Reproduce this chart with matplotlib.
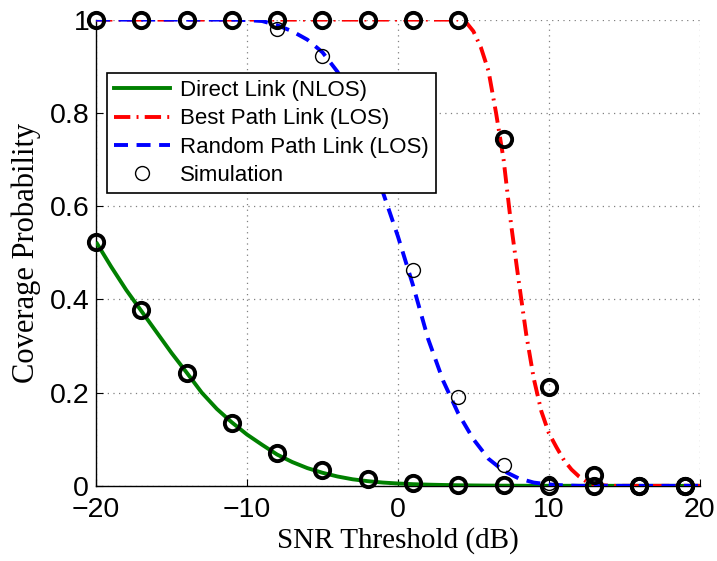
import matplotlib
matplotlib.use('Agg')
import matplotlib.pyplot as plt
from matplotlib.lines import Line2D

# analytical curves
snr_direct = [-20, -19, -18, -17, -16, -15, -14, -13, -12, -11, -10, -9, -8, -7, -6, -5,
              -4, -3, -2, -1, 0, 1, 2, 3, 4, 5, 6, 8, 10, 15, 20]
p_direct = [0.523, 0.47, 0.42, 0.375, 0.33, 0.285, 0.243, 0.2, 0.165, 0.136, 0.11, 0.088,
            0.067, 0.051, 0.038, 0.028, 0.02, 0.014, 0.01, 0.007, 0.005, 0.0035, 0.0025,
            0.0018, 0.0012, 0.0008, 0.0005, 0.0002, 0.0001, 0.0, 0.0]

snr_best = [-20, 0, 4, 4.5, 5, 5.5, 6, 6.5, 7, 7.5, 8, 8.5, 9, 9.5, 10, 10.5, 11, 11.5,
            12, 12.5, 13, 14, 20]
p_best = [1.0, 1.0, 1.0, 0.995, 0.975, 0.94, 0.89, 0.80, 0.70, 0.56, 0.44, 0.325, 0.23,
          0.16, 0.113, 0.083, 0.055, 0.035, 0.02, 0.009, 0.003, 0.0, 0.0]

snr_rand = [-20, -11, -10, -9, -8, -7, -6, -5, -4, -3, -2, -1, 0, 1, 2, 3, 4, 5, 6, 7, 8,
            9, 10, 11, 12, 20]
p_rand = [1.0, 1.0, 0.999, 0.997, 0.988, 0.975, 0.957, 0.93, 0.888, 0.83, 0.74, 0.63,
          0.535, 0.43, 0.315, 0.225, 0.155, 0.10, 0.058, 0.032, 0.016, 0.007, 0.003,
          0.001, 0.0, 0.0]

# simulation points
snr_sim = [-20, -17, -14, -11, -8, -5, -2, 1, 4, 7, 10, 13, 16, 19]
sim_direct = [0.523, 0.377, 0.241, 0.135, 0.071, 0.033, 0.014, 0.006, 0.002, 0.001, 0.0, 0.0, 0.0, 0.0]
sim_best = [1.0, 1.0, 1.0, 1.0, 1.0, 1.0, 1.0, 1.0, 1.0, 0.743, 0.212, 0.024, 0.0, 0.0]
sim_rand = [1.0, 1.0, 1.0, 1.0, 0.98, 0.921, 0.74, 0.462, 0.19, 0.045, 0.005, 0.0, 0.0, 0.0]

plt.rcParams['font.family'] = ['Liberation Sans', 'DejaVu Sans']

fig = plt.figure(figsize=(7.17, 5.61), dpi=100)
ax = fig.add_axes([0.134, 0.134, 0.842, 0.831])

lw = 2.8
green, red, blue = '#008000', '#ff0000', '#0000ff'
dash_best = (4.2, 1.6, 0.5, 1.6)
dash_rand = (3.6, 2.2)

ax.plot(snr_direct, p_direct, color=green, lw=lw, solid_capstyle='butt', zorder=3)
l_best, = ax.plot(snr_best, p_best, color=red, lw=lw, zorder=3)
l_best.set_dashes(dash_best)
l_rand, = ax.plot(snr_rand, p_rand, color=blue, lw=lw, zorder=3)
l_rand.set_dashes(dash_rand)

# simulation markers
ax.plot(snr_sim, sim_rand, 'o', ms=10, mfc='none', mec='k', mew=1.0, clip_on=False, zorder=4)
ax.plot(snr_sim, sim_direct, 'o', ms=11, mfc='none', mec='k', mew=2.8, clip_on=False, zorder=5)
ax.plot(snr_sim, sim_best, 'o', ms=11, mfc='none', mec='k', mew=2.8, clip_on=False, zorder=5)

ax.set_xlim(-20, 20)
ax.set_ylim(0, 1)
ax.set_xticks([-20, -10, 0, 10, 20])
ax.set_yticks([0, 0.2, 0.4, 0.6, 0.8, 1])
ax.set_yticklabels(['0', '0.2', '0.4', '0.6', '0.8', '1'])
ax.tick_params(direction='in', length=5, width=0.8, labelsize=20.5, pad=5)
ax.tick_params(axis='x', pad=8)

for s in ['top', 'right']:
    ax.spines[s].set_visible(False)
for s in ['left', 'bottom']:
    ax.spines[s].set_linewidth(1.0)

ax.grid(True, color='#808080', linestyle=(0, (1, 3.5)), linewidth=0.9)
ax.set_axisbelow(True)

ax.set_xlabel('SNR Threshold (dB)', family='Liberation Serif', fontsize=21, labelpad=3)
ax.set_ylabel('Coverage Probability', family='Liberation Serif', fontsize=22, labelpad=6)

handles = [
    Line2D([], [], color=green, lw=lw),
    Line2D([], [], color=red, lw=lw, dashes=dash_best),
    Line2D([], [], color=blue, lw=lw, dashes=dash_rand),
    Line2D([], [], ls='none', marker='o', ms=10, mfc='none', mec='k', mew=1.0),
]
labels = ['Direct Link (NLOS)', 'Best Path Link (LOS)', 'Random Path Link (LOS)', 'Simulation']
leg = ax.legend(handles, labels, loc='upper left', bbox_to_anchor=(0.018, 0.886),
                borderaxespad=0, fontsize=16, handlelength=2.5, handletextpad=0.45,
                labelspacing=0.33, borderpad=0.33, fancybox=False, framealpha=1)
leg.get_frame().set_edgecolor('k')
leg.get_frame().set_linewidth(1.2)
leg.set_zorder(10)

fig.savefig('out.png', dpi=100)
